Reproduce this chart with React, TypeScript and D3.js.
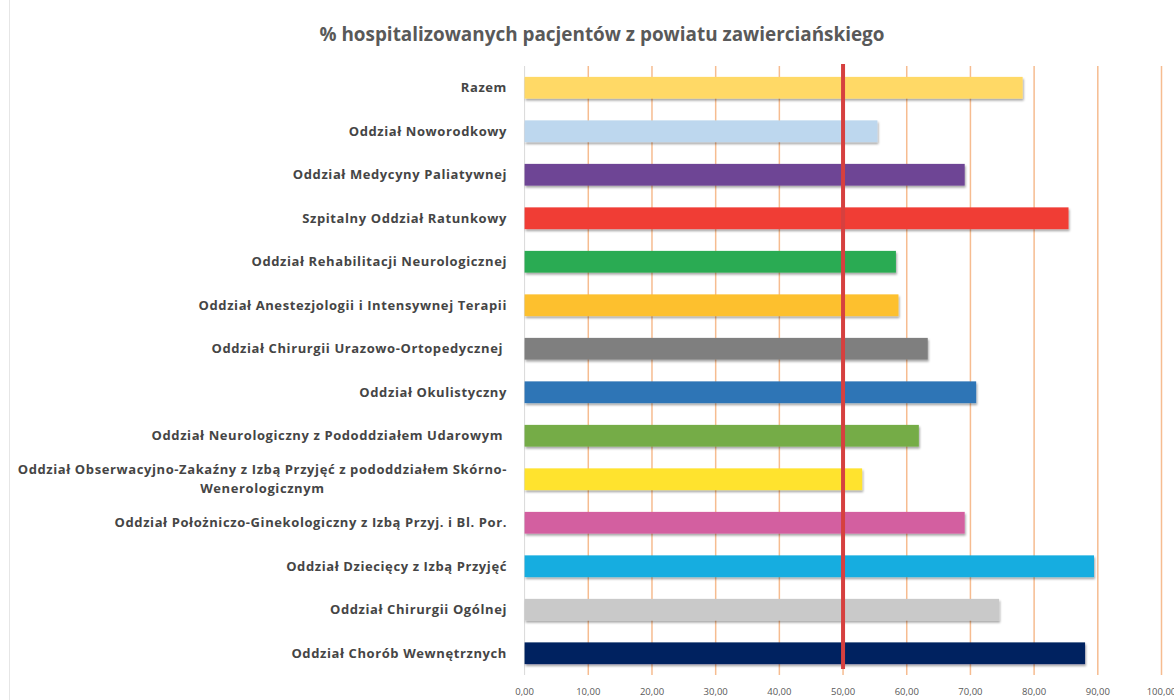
import { useRef, useEffect } from "react";
import * as d3 from "d3";

const TITLE = "% hospitalizowanych pacjentów z powiatu zawierciańskiego";

// top-to-bottom order as in the picture
const CATEGORIES: string[][] = [
  ["Razem"],
  ["Oddział Noworodkowy"],
  ["Oddział Medycyny Paliatywnej"],
  ["Szpitalny Oddział Ratunkowy"],
  ["Oddział Rehabilitacji Neurologicznej"],
  ["Oddział Anestezjologii i Intensywnej Terapii"],
  ["Oddział Chirurgii Urazowo-Ortopedycznej "],
  ["Oddział Okulistyczny"],
  ["Oddział Neurologiczny z Pododdziałem Udarowym "],
  ["Oddział Obserwacyjno-Zakaźny z Izbą Przyjęć z pododdziałem Skórno-", "Wenerologicznym"],
  ["Oddział Położniczo-Ginekologiczny z Izbą Przyj. i Bl. Por."],
  ["Oddział Dziecięcy z Izbą Przyjęć"],
  ["Oddział Chirurgii Ogólnej"],
  ["Oddział Chorób Wewnętrznych"],
];

const VALUES = [78.2, 55.4, 69.1, 85.4, 58.3, 58.7, 63.3, 70.9, 61.9, 53.0, 69.1, 89.4, 74.5, 88.0];

const COLORS = [
  "#FFD966", "#BDD7EE", "#6E4595", "#F03E36", "#2AAB52", "#FDC02F", "#7F7F7F",
  "#2E75B6", "#74AC46", "#FFE32E", "#D35FA0", "#17ADE0", "#C9C9C9", "#062361",
];

const TICKS = [0, 10, 20, 30, 40, 50, 60, 70, 80, 90, 100];
const THRESHOLD = 50;

const W = 1174;
const H = 700;

export default function App() {
  const svgRef = useRef<SVGSVGElement>(null);

  useEffect(() => {
    if (!svgRef.current) return;
    const svg = d3.select(svgRef.current);
    svg.selectAll("*").remove();

    const left = 524.6;
    const right = 1161.5;
    const top = 66;
    const bottom = 675;

    const x = d3.scaleLinear().domain([0, 100]).range([left, right]);
    const y = d3
      .scaleBand<number>()
      .domain(d3.range(CATEGORIES.length))
      .range([top, bottom])
      .paddingInner(0.5)
      .paddingOuter(0.25);

    const defs = svg.append("defs");
    defs
      .append("filter")
      .attr("id", "shadow")
      .attr("x", "-5%")
      .attr("y", "-30%")
      .attr("width", "110%")
      .attr("height", "180%")
      .append("feDropShadow")
      .attr("dx", 1)
      .attr("dy", 2)
      .attr("stdDeviation", 1.2)
      .attr("flood-color", "#000")
      .attr("flood-opacity", 0.35);

    svg.append("rect").attr("width", W).attr("height", H).attr("fill", "#fff");
    svg
      .append("line")
      .attr("x1", 9.5)
      .attr("x2", 9.5)
      .attr("y1", 0)
      .attr("y2", H)
      .attr("stroke", "#E6E6E6");

    // title
    svg
      .append("text")
      .attr("x", 602)
      .attr("y", 41)
      .attr("text-anchor", "middle")
      .attr("font-family", "'Open Sans', sans-serif")
      .attr("font-weight", 700)
      .attr("font-size", 18.9)
      .attr("fill", "#595959")
      .text(TITLE);

    // gridlines
    svg
      .append("g")
      .selectAll("line")
      .data(TICKS.filter((t) => t > 0))
      .join("line")
      .attr("x1", (d) => x(d))
      .attr("x2", (d) => x(d))
      .attr("y1", top)
      .attr("y2", bottom)
      .attr("stroke", "#F6BC90")
      .attr("stroke-width", 1.5);

    svg
      .append("line")
      .attr("x1", left)
      .attr("x2", left)
      .attr("y1", top)
      .attr("y2", bottom)
      .attr("stroke", "#D9D9D9");

    // tick labels (the last one is clipped by the right edge, as in the source)
    svg
      .append("g")
      .selectAll("text")
      .data(TICKS)
      .join("text")
      .attr("x", (d) => x(d))
      .attr("y", 695)
      .attr("text-anchor", "middle")
      .attr("font-family", "'Open Sans', sans-serif")
      .attr("font-size", 9.5)
      .attr("fill", "#595959")
      .text((d) => d.toFixed(2).replace(".", ","));

    // bars
    svg
      .append("g")
      .selectAll("rect")
      .data(VALUES)
      .join("rect")
      .attr("x", x(0))
      .attr("y", (_, i) => y(i)!)
      .attr("width", (d) => x(d) - x(0))
      .attr("height", y.bandwidth())
      .attr("fill", (_, i) => COLORS[i])
      .attr("filter", "url(#shadow)");

    // category labels
    const labels = svg
      .append("g")
      .attr("font-family", "'Open Sans', sans-serif")
      .attr("font-weight", 700)
      .attr("font-size", 13)
      .attr("letter-spacing", 0.6)
      .attr("fill", "#454545");

    CATEGORIES.forEach((lines, i) => {
      const cy = y(i)! + y.bandwidth() / 2;
      if (lines.length === 1) {
        labels
          .append("text")
          .attr("x", 507)
          .attr("y", cy)
          .attr("dy", "0.35em")
          .attr("text-anchor", "end")
          .style("white-space", "pre")
          .text(lines[0]);
      } else {
        const first = labels
          .append("text")
          .attr("x", 507)
          .attr("y", cy - 9.5)
          .attr("dy", "0.35em")
          .attr("text-anchor", "end")
          .text(lines[0]);
        const w = (first.node() as SVGTextElement).getComputedTextLength();
        labels
          .append("text")
          .attr("x", 507 - w / 2)
          .attr("y", cy + 9.5)
          .attr("dy", "0.35em")
          .attr("text-anchor", "middle")
          .text(lines[1]);
      }
    });

    // 50% reference line
    svg
      .append("line")
      .attr("x1", x(THRESHOLD))
      .attr("x2", x(THRESHOLD))
      .attr("y1", 64)
      .attr("y2", 669)
      .attr("stroke", "#D6403F")
      .attr("stroke-width", 4);
  }, []);

  return (
    <svg
      ref={svgRef}
      width={W}
      height={H}
      style={{ position: "absolute", left: 0, top: 0, display: "block" }}
    />
  );
}
